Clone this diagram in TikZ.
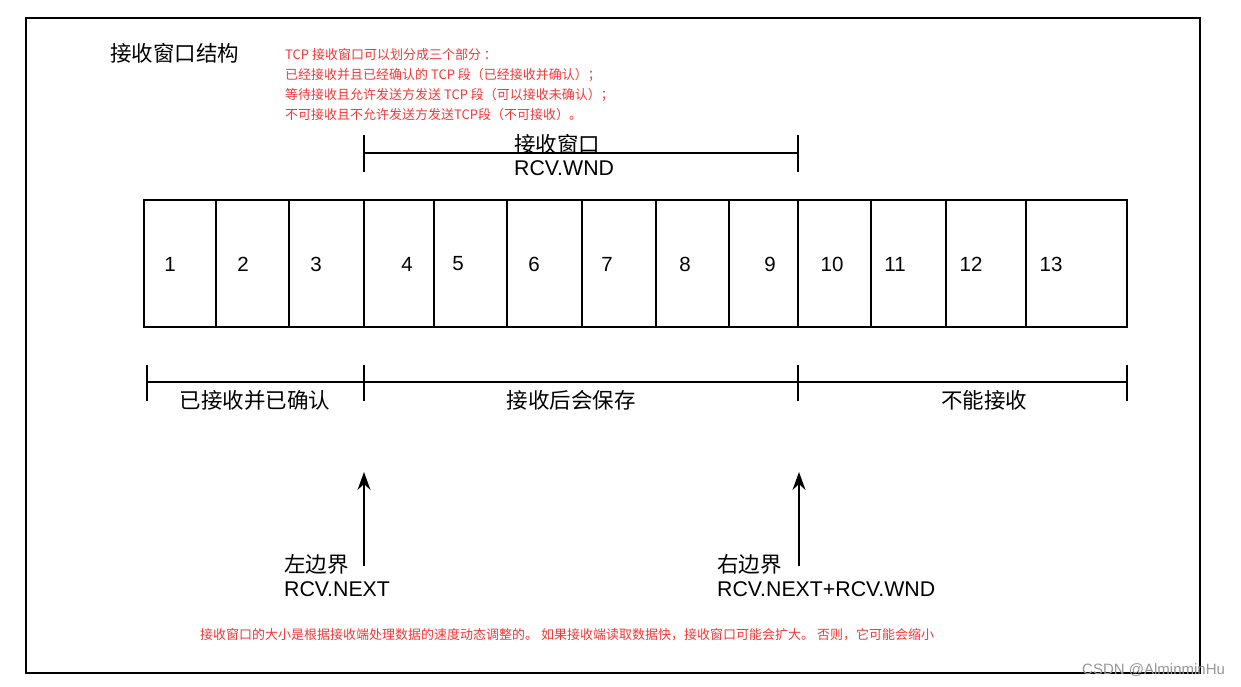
\documentclass[tikz,border=0pt]{standalone}
\usepackage{fontspec}
\setmainfont{Liberation Sans}
\newfontfamily\cjk{Noto Sans CJK SC}
\usetikzlibrary{arrows.meta}
\definecolor{tred}{RGB}{245,55,55}
\definecolor{wmgray}{RGB}{150,150,150}
\begin{document}
\begin{tikzpicture}[x=1pt,y=-1pt,
  cell/.style={draw,line width=2pt,inner sep=0pt,outer sep=0pt,anchor=north west,minimum height=127pt},
  num/.style={font=\fontsize{20.5}{24}\selectfont,inner sep=0pt},
  lbl/.style={font=\cjk\fontsize{21.5}{24}\selectfont,inner sep=0pt},
  lat/.style={font=\fontsize{21.3}{24}\selectfont,inner sep=0pt},
  redt/.style={font=\cjk\fontsize{13}{20}\selectfont,text=tred,anchor=west,inner sep=0pt},
  brk/.style={line width=1.5pt},
  arr/.style={line width=1.5pt,-{Stealth[length=18pt,width=13pt,inset=6pt]}}]
\useasboundingbox (0,0) rectangle (1241,686);
\fill[white] (0,0) rectangle (1241,686);
% frame
\draw[line width=2pt] (26,18) rectangle (1200,673);
% title
\node[font=\cjk\fontsize{21.5}{24}\selectfont,anchor=west,inner sep=0pt] (title) at (110,53) {接收窗口结构};
% red notes
\node[redt] (r1) at (285,55) {TCP 接收窗口可以划分成三个部分 ：};
\node[redt] (r2) at (285,75) {已经接收并且已经确认的 TCP 段（已经接收并确认）；};
\node[redt] (r3) at (285,95) {等待接收且允许发送方发送 TCP 段（可以接收未确认）；};
\node[redt] (r4) at (285,115) {不可接收且不允许发送方发送TCP段（不可接收）。};
% top bracket
\coordinate (tl) at (364,153);
\coordinate (tr) at (798,153);
\coordinate (tlu) at (364,135);
\coordinate (tld) at (364,172);
\coordinate (tru) at (798,135);
\coordinate (trd) at (798,172);
\draw[brk] (tl) -- (tr);
\draw[brk] (tlu) -- (tld);
\draw[brk] (tru) -- (trd);
\node[lbl,anchor=west] (wnd1) at (514,144) {接收窗口};
\node[lat,anchor=west] (wnd2) at (514,168) {RCV.WND};
% cells
\node[cell,minimum width=72pt] (c1) at (144,200) {};
\node[cell,minimum width=73pt] (c2) at (216,200) {};
\node[cell,minimum width=75pt] (c3) at (289,200) {};
\node[cell,minimum width=70pt] (c4) at (364,200) {};
\node[cell,minimum width=73pt] (c5) at (434,200) {};
\node[cell,minimum width=75pt] (c6) at (507,200) {};
\node[cell,minimum width=74pt] (c7) at (582,200) {};
\node[cell,minimum width=73pt] (c8) at (656,200) {};
\node[cell,minimum width=69pt] (c9) at (729,200) {};
\node[cell,minimum width=73pt] (c10) at (798,200) {};
\node[cell,minimum width=75pt] (c11) at (871,200) {};
\node[cell,minimum width=80pt] (c12) at (946,200) {};
\node[cell,minimum width=101pt] (c13) at (1026,200) {};
\node[num] (n1) at (170,264) {1};
\node[num] (n2) at (243,264) {2};
\node[num] (n3) at (316,264) {3};
\node[num] (n4) at (407,264) {4};
\node[num] (n5) at (458,264) {5};
\node[num] (n6) at (534,264) {6};
\node[num] (n7) at (607,264) {7};
\node[num] (n8) at (685,264) {8};
\node[num] (n9) at (770,264) {9};
\node[num] (n10) at (832,264) {10};
\node[num] (n11) at (895,264) {11};
\node[num] (n12) at (971,264) {12};
\node[num] (n13) at (1051,264) {13};
% bottom bracket
\coordinate (b1) at (147,382);
\coordinate (b2) at (364,382);
\coordinate (b3) at (798,382);
\coordinate (b4) at (1127,382);
\draw[brk] (b1) -- (b4);
\foreach \p in {b1,b2,b3,b4}{
  \draw[brk] ([yshift=17pt]\p) -- ([yshift=-19pt]\p);
}
\node[lbl] (s1) at (255,400) {已接收并已确认};
\node[lbl] (s2) at (571,400) {接收后会保存};
\node[lbl] (s3) at (984,400) {不能接收};
% arrows
\coordinate (aLb) at (364,566);
\coordinate (aLt) at (364,472);
\coordinate (aRb) at (799,566);
\coordinate (aRt) at (799,472);
\draw[arr] (aLb) -- (aLt);
\draw[arr] (aRb) -- (aRt);
\node[lbl,anchor=west] (lb1) at (284,564) {左边界};
\node[lat,anchor=west] (lb2) at (284,589) {RCV.NEXT};
\node[lbl,anchor=west] (rb1) at (717,564) {右边界};
\node[lat,anchor=west] (rb2) at (717,589) {RCV.NEXT+RCV.WND};
% bottom note
\node[redt] (note) at (200,635) {接收窗口的大小是根据接收端处理数据的速度动态调整的。 如果接收端读取数据快，接收窗口可能会扩大。 否则，它可能会缩小};
% watermark
\node[font=\fontsize{15}{18}\selectfont,text=wmgray,anchor=west,inner sep=0pt] (wm) at (1082,670) {CSDN @AlminminHu};
\end{tikzpicture}
\end{document}
